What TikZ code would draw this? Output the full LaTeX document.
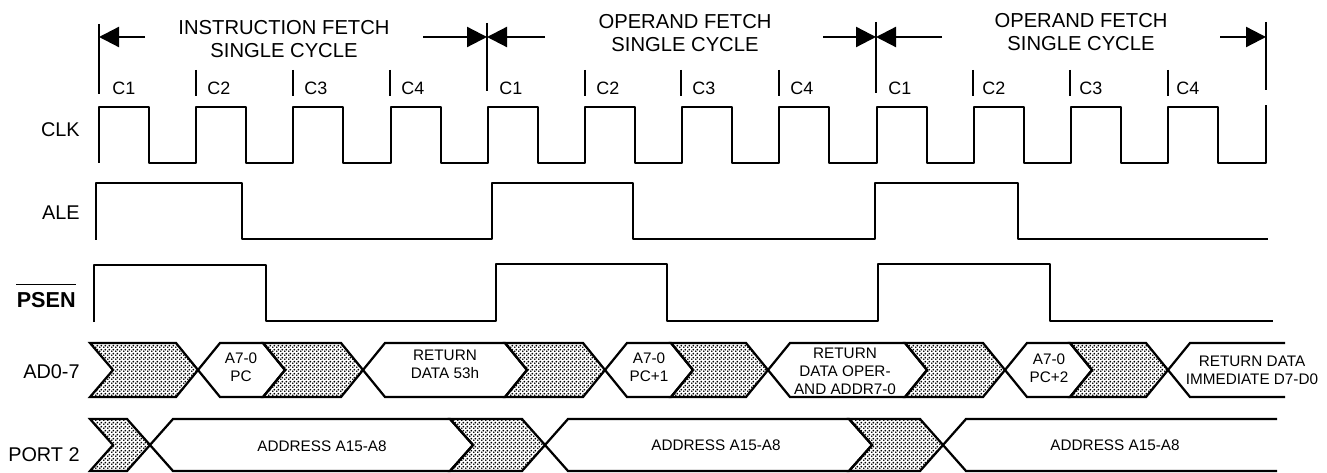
\documentclass[tikz,border=0pt]{standalone}
\usepackage{fontspec}
\setmainfont{Liberation Sans}
\usepackage{tikz}
\usetikzlibrary{arrows.meta,patterns.meta}
\tikzdeclarepattern{
	name=finedots, type=uncolored,
	bottom left={(0pt,0pt)}, top right={(2pt,2pt)}, tile size={(2pt,2pt)},
	code={
		\fill (0.5pt,0.5pt) circle (0.6pt);
		\fill (1.5pt,1.5pt) circle (0.6pt);
	}
}
\tikzset{
	wave/.style={line width=0.45mm, line join=round},
	bus/.style={line width=0.45mm, line join=miter},
	grayfill/.style={bus, pattern=finedots, pattern color=black},
	tickline/.style={line width=0.45mm},
	cyclearrow/.style={line width=0.45mm, -{Triangle[length=4mm, width=4mm]}},
	hdrtext/.style={font=\fontsize{11.5}{13}\selectfont, align=center, inner sep=0pt},
	phaselabel/.style={font=\fontsize{10.2}{12}\selectfont, anchor=west, inner sep=0pt},
	siglabel/.style={font=\fontsize{11.3}{13}\selectfont, anchor=east, inner sep=0pt},
	bustext/.style={font=\fontsize{8.7}{10.2}\selectfont, align=center, inner sep=0pt}
}

\begin{document}
\begin{tikzpicture}[x=0.2mm, y=-0.2mm]
		%%%%% START %%%%%
		\useasboundingbox (0,0) rectangle (1327,473);
		
		\coordinate (b0) at (99,37);
		\coordinate (b1) at (487,37);
		\coordinate (b2) at (876,37);
		\coordinate (b3) at (1266,37);
		\coordinate (if-l) at (145,37);
		\coordinate (if-r) at (423,37);
		\coordinate (of1-l) at (545,37);
		\coordinate (of1-r) at (823,37);
		\coordinate (of2-l) at (942,37);
		\coordinate (of2-r) at (1220,37);
		
		\node[hdrtext] (hdr-if) at (284,39) {INSTRUCTION FETCH\\SINGLE CYCLE};
		\node[hdrtext] (hdr-of1) at (685,33) {OPERAND FETCH\\SINGLE CYCLE};
		\node[hdrtext] (hdr-of2) at (1081,32) {OPERAND FETCH\\SINGLE CYCLE};
		
		\draw[cyclearrow] (if-l) -- (b0);
		\draw[cyclearrow] (if-r) -- (b1);
		\draw[cyclearrow] (of1-l) -- (b1);
		\draw[cyclearrow] (of1-r) -- (b2);
		\draw[cyclearrow] (of2-l) -- (b2);
		\draw[cyclearrow] (of2-r) -- (b3);
		
		\draw[tickline] (99,24) -- (99,94);
		\draw[tickline] (487,23) -- (487,91);
		\draw[tickline] (876,22) -- (876,93);
		\draw[tickline] (1266,22) -- (1266,90);
		
		\draw[tickline] (196,70) -- (196,96);
		\draw[tickline] (293,70) -- (293,96);
		\draw[tickline] (390,70) -- (390,96);
		\draw[tickline] (585,70) -- (585,96);
		\draw[tickline] (681,70) -- (681,96);
		\draw[tickline] (779,70) -- (779,96);
		\draw[tickline] (973,70) -- (973,96);
		\draw[tickline] (1070,70) -- (1070,96);
		\draw[tickline] (1168,70) -- (1168,96);
		
		\node[phaselabel] (c1-if) at (112,88) {C1};
		\node[phaselabel] (c2-if) at (207,88) {C2};
		\node[phaselabel] (c3-if) at (304,88) {C3};
		\node[phaselabel] (c4-if) at (401,88) {C4};
		\node[phaselabel] (c1-of1) at (499,88) {C1};
		\node[phaselabel] (c2-of1) at (596,88) {C2};
		\node[phaselabel] (c3-of1) at (692,88) {C3};
		\node[phaselabel] (c4-of1) at (790,88) {C4};
		\node[phaselabel] (c1-of2) at (888,88) {C1};
		\node[phaselabel] (c2-of2) at (982,88) {C2};
		\node[phaselabel] (c3-of2) at (1079,88) {C3};
		\node[phaselabel] (c4-of2) at (1176,88) {C4};
		
		% signal names
		\node[siglabel] (lbl-clk) at (80,130) {CLK};
		\node[siglabel] (lbl-ale) at (80,213) {ALE};
		\node[siglabel, font=\fontsize{12.3}{14}\selectfont\bfseries] (lbl-psen) at (76,300) {PSEN};
		\draw[line width=0.3mm] ([yshift=1.5mm]lbl-psen.north west) -- ([yshift=1.5mm]lbl-psen.north east);
		\node[siglabel] (lbl-ad) at (80,372) {AD0-7};
		\node[siglabel] (lbl-p2) at (80,455) {PORT 2};
		
		% CLK
		\draw[wave] (99,163) -- (99,107) -- (149,107) -- (149,163) -- (196,163) -- (196,107) -- (246,107) -- (246,163)
			-- (293,163) -- (293,107) -- (343,107) -- (343,163) -- (391,163) -- (391,107) -- (441,107) -- (441,163)
			-- (488,163) -- (488,107) -- (538,107) -- (538,163) -- (585,163) -- (585,107) -- (635,107) -- (635,163)
			-- (682,163) -- (682,107) -- (732,107) -- (732,163) -- (779,163) -- (779,107) -- (829,107) -- (829,163)
			-- (877,163) -- (877,107) -- (927,107) -- (927,163) -- (974,163) -- (974,107) -- (1024,107) -- (1024,163)
			-- (1071,163) -- (1071,107) -- (1121,107) -- (1121,163) -- (1168,163) -- (1168,107) -- (1218,107) -- (1218,163)
			-- (1266,163) -- (1266,105);
		
		% ALE
		\draw[wave] (96,240) -- (96,183) -- (242,183) -- (242,239) -- (492,239) -- (492,183) -- (633,183) -- (633,239)
			-- (875,239) -- (875,183) -- (1018,183) -- (1018,239) -- (1268,239);
		
		% PSEN
		\draw[wave] (94,322) -- (94,265) -- (266,265) -- (266,321) -- (496,321) -- (496,264) -- (667,264) -- (667,321)
			-- (878,321) -- (878,264) -- (1050,264) -- (1050,321) -- (1273,321);
		
		% AD0-7
		\filldraw[grayfill] (90,343) -- (176,343) -- (198,370) -- (176,397) -- (90,397) -- (113,370) -- cycle;
		\draw[bus] (198,370) -- (220,343) -- (263,343) -- (285,370) -- (263,397) -- (220,397) -- cycle;
		\filldraw[grayfill] (263,343) -- (341,343) -- (363,370) -- (341,397) -- (263,397) -- (285,370) -- cycle;
		\draw[bus] (363,370) -- (385,343) -- (505,343) -- (527,370) -- (505,397) -- (385,397) -- cycle;
		\filldraw[grayfill] (505,343) -- (583,343) -- (605,370) -- (583,397) -- (505,397) -- (527,370) -- cycle;
		\draw[bus] (605,370) -- (627,343) -- (671,343) -- (693,370) -- (671,397) -- (627,397) -- cycle;
		\filldraw[grayfill] (671,343) -- (746,343) -- (768,370) -- (746,397) -- (671,397) -- (693,370) -- cycle;
		\draw[bus] (768,370) -- (790,343) -- (905,343) -- (927,370) -- (905,397) -- (790,397) -- cycle;
		\filldraw[grayfill] (905,343) -- (983,343) -- (1005,370) -- (983,397) -- (905,397) -- (927,370) -- cycle;
		\draw[bus] (1005,370) -- (1027,343) -- (1070,343) -- (1092,370) -- (1070,397) -- (1027,397) -- cycle;
		\filldraw[grayfill] (1070,343) -- (1146,343) -- (1168,370) -- (1146,397) -- (1070,397) -- (1092,370) -- cycle;
		\draw[bus] (1285,343) -- (1190,343) -- (1168,370) -- (1190,397) -- (1285,397);
		
		\node[bustext] (ad-pc) at (241,367) {A7-0\\PC};
		\node[bustext] (ad-d53) at (445,364) {RETURN\\DATA 53h};
		\node[bustext] (ad-pc1) at (649,367) {A7-0\\PC+1};
		\node[bustext] (ad-oper) at (845,371) {RETURN\\DATA OPER-\\AND ADDR7-0};
		\node[bustext] (ad-pc2) at (1049,368) {A7-0\\PC+2};
		\node[bustext] (ad-imm) at (1252,370) {RETURN DATA\\IMMEDIATE D7-D0};
		
		% PORT 2
		\filldraw[grayfill] (90,419) -- (127,419) -- (150,445) -- (127,471) -- (90,471) -- (113,445) -- cycle;
		\draw[bus] (150,445) -- (173,419) -- (450,419) -- (473,445) -- (450,471) -- (173,471) -- cycle;
		\filldraw[grayfill] (450,419) -- (522,419) -- (545,445) -- (522,471) -- (450,471) -- (473,445) -- cycle;
		\draw[bus] (545,445) -- (568,419) -- (849,419) -- (872,445) -- (849,471) -- (568,471) -- cycle;
		\filldraw[grayfill] (849,419) -- (920,419) -- (943,445) -- (920,471) -- (849,471) -- (872,445) -- cycle;
		\draw[bus] (1277,419) -- (966,419) -- (943,445) -- (966,471) -- (1277,471);
		
		\node[bustext] (p2-if) at (322,446) {ADDRESS A15-A8};
		\node[bustext] (p2-of1) at (716,445) {ADDRESS A15-A8};
		\node[bustext] (p2-of2) at (1115,445) {ADDRESS A15-A8};
		
		%%%%% END %%%%%
	\end{tikzpicture}
\end{document}
